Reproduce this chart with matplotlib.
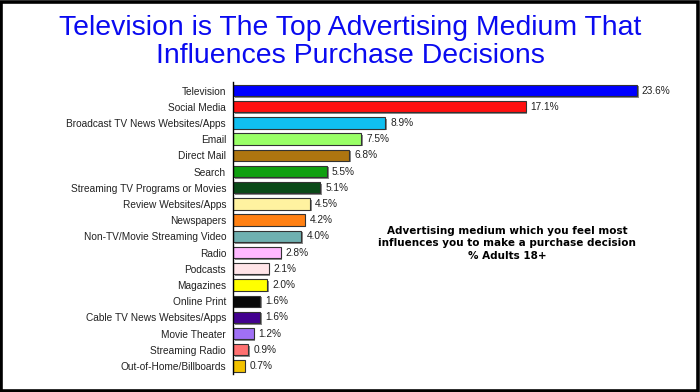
import matplotlib
matplotlib.use("Agg")
import matplotlib.pyplot as plt
import matplotlib.transforms as mtransforms
from matplotlib.patches import Rectangle

categories = ["Television", "Social Media", "Broadcast TV News Websites/Apps", "Email",
              "Direct Mail", "Search", "Streaming TV Programs or Movies",
              "Review Websites/Apps", "Newspapers", "Non-TV/Movie Streaming Video",
              "Radio", "Podcasts", "Magazines", "Online Print",
              "Cable TV News Websites/Apps", "Movie Theater", "Streaming Radio",
              "Out-of-Home/Billboards"]
values = [23.6, 17.1, 8.9, 7.5, 6.8, 5.5, 5.1, 4.5, 4.2, 4.0, 2.8, 2.1, 2.0, 1.6, 1.6, 1.2, 0.9, 0.7]
colors = ["#0000FF", "#FF1010", "#10BFF0", "#99FF66", "#AE7510", "#10A010", "#0A4A18",
          "#FFF2A0", "#FF8012", "#6FB0B0", "#FFB8FF", "#FFE4E8", "#FFFF00", "#080808",
          "#42008F", "#A070F5", "#FF7070", "#F2C200"]

title_lines = ["Television is The Top Advertising Medium That",
               "Influences Purchase Decisions"]
note = "Advertising medium which you feel most\ninfluences you to make a purchase decision\n% Adults 18+"

W, H = 700, 392
fig = plt.figure(figsize=(W / 100, H / 100), dpi=100)
fig.patch.set_facecolor("white")

x0, x1 = 233, 680
y_top, y_bot = 82.4, 374.1
ax = fig.add_axes([x0 / W, 1 - y_bot / H, (x1 - x0) / W, (y_bot - y_top) / H])
xmax = (x1 - x0) / ((637 - 233) / 23.6)
ax.set_xlim(0, xmax)
ax.set_ylim(len(categories) - 0.5, -0.5)

ypos = list(range(len(categories)))
shadow_tr = mtransforms.offset_copy(ax.transData, fig=fig, x=1.5, y=-1.5, units="dots")
ax.barh(ypos, values, height=0.7, color="#8a8a8a", edgecolor="none",
        transform=shadow_tr, zorder=1)
ax.barh(ypos, values, height=0.7, color=colors, edgecolor="#333333",
        linewidth=0.8, zorder=2)

for y, v in zip(ypos, values):
    ax.annotate(f"{v:.1f}%", xy=(v, y), xytext=(3.5, 0), textcoords="offset points",
                va="center", ha="left", fontsize=7.3, color="#222222",
                family="Liberation Sans")

ax.set_yticks(ypos)
ax.set_yticklabels(categories, fontsize=7.3, color="#222222", family="Liberation Sans")
ax.tick_params(axis="y", length=0, pad=5)
ax.set_xticks([])
for s in ["top", "right", "bottom"]:
    ax.spines[s].set_visible(False)
ax.spines["left"].set_color("#000000")
ax.spines["left"].set_linewidth(1.0)
ax.patch.set_alpha(0)

for line, base in zip(title_lines, [35, 63]):
    fig.text(350 / W, 1 - base / H, line, ha="center", va="baseline", fontsize=20.4,
             color="#0a0af0", family="Liberation Sans")

fig.text(507 / W, 1 - 243.5 / H, note, ha="center", va="center", fontsize=7.5,
         fontweight="bold", color="#000000", family="DejaVu Sans", linespacing=1.32)

fig.patches.append(Rectangle((0.0015, 0.003), 0.996, 0.993, transform=fig.transFigure,
                             fill=False, edgecolor="black", linewidth=2.6))

fig.savefig("out.png", dpi=100)
